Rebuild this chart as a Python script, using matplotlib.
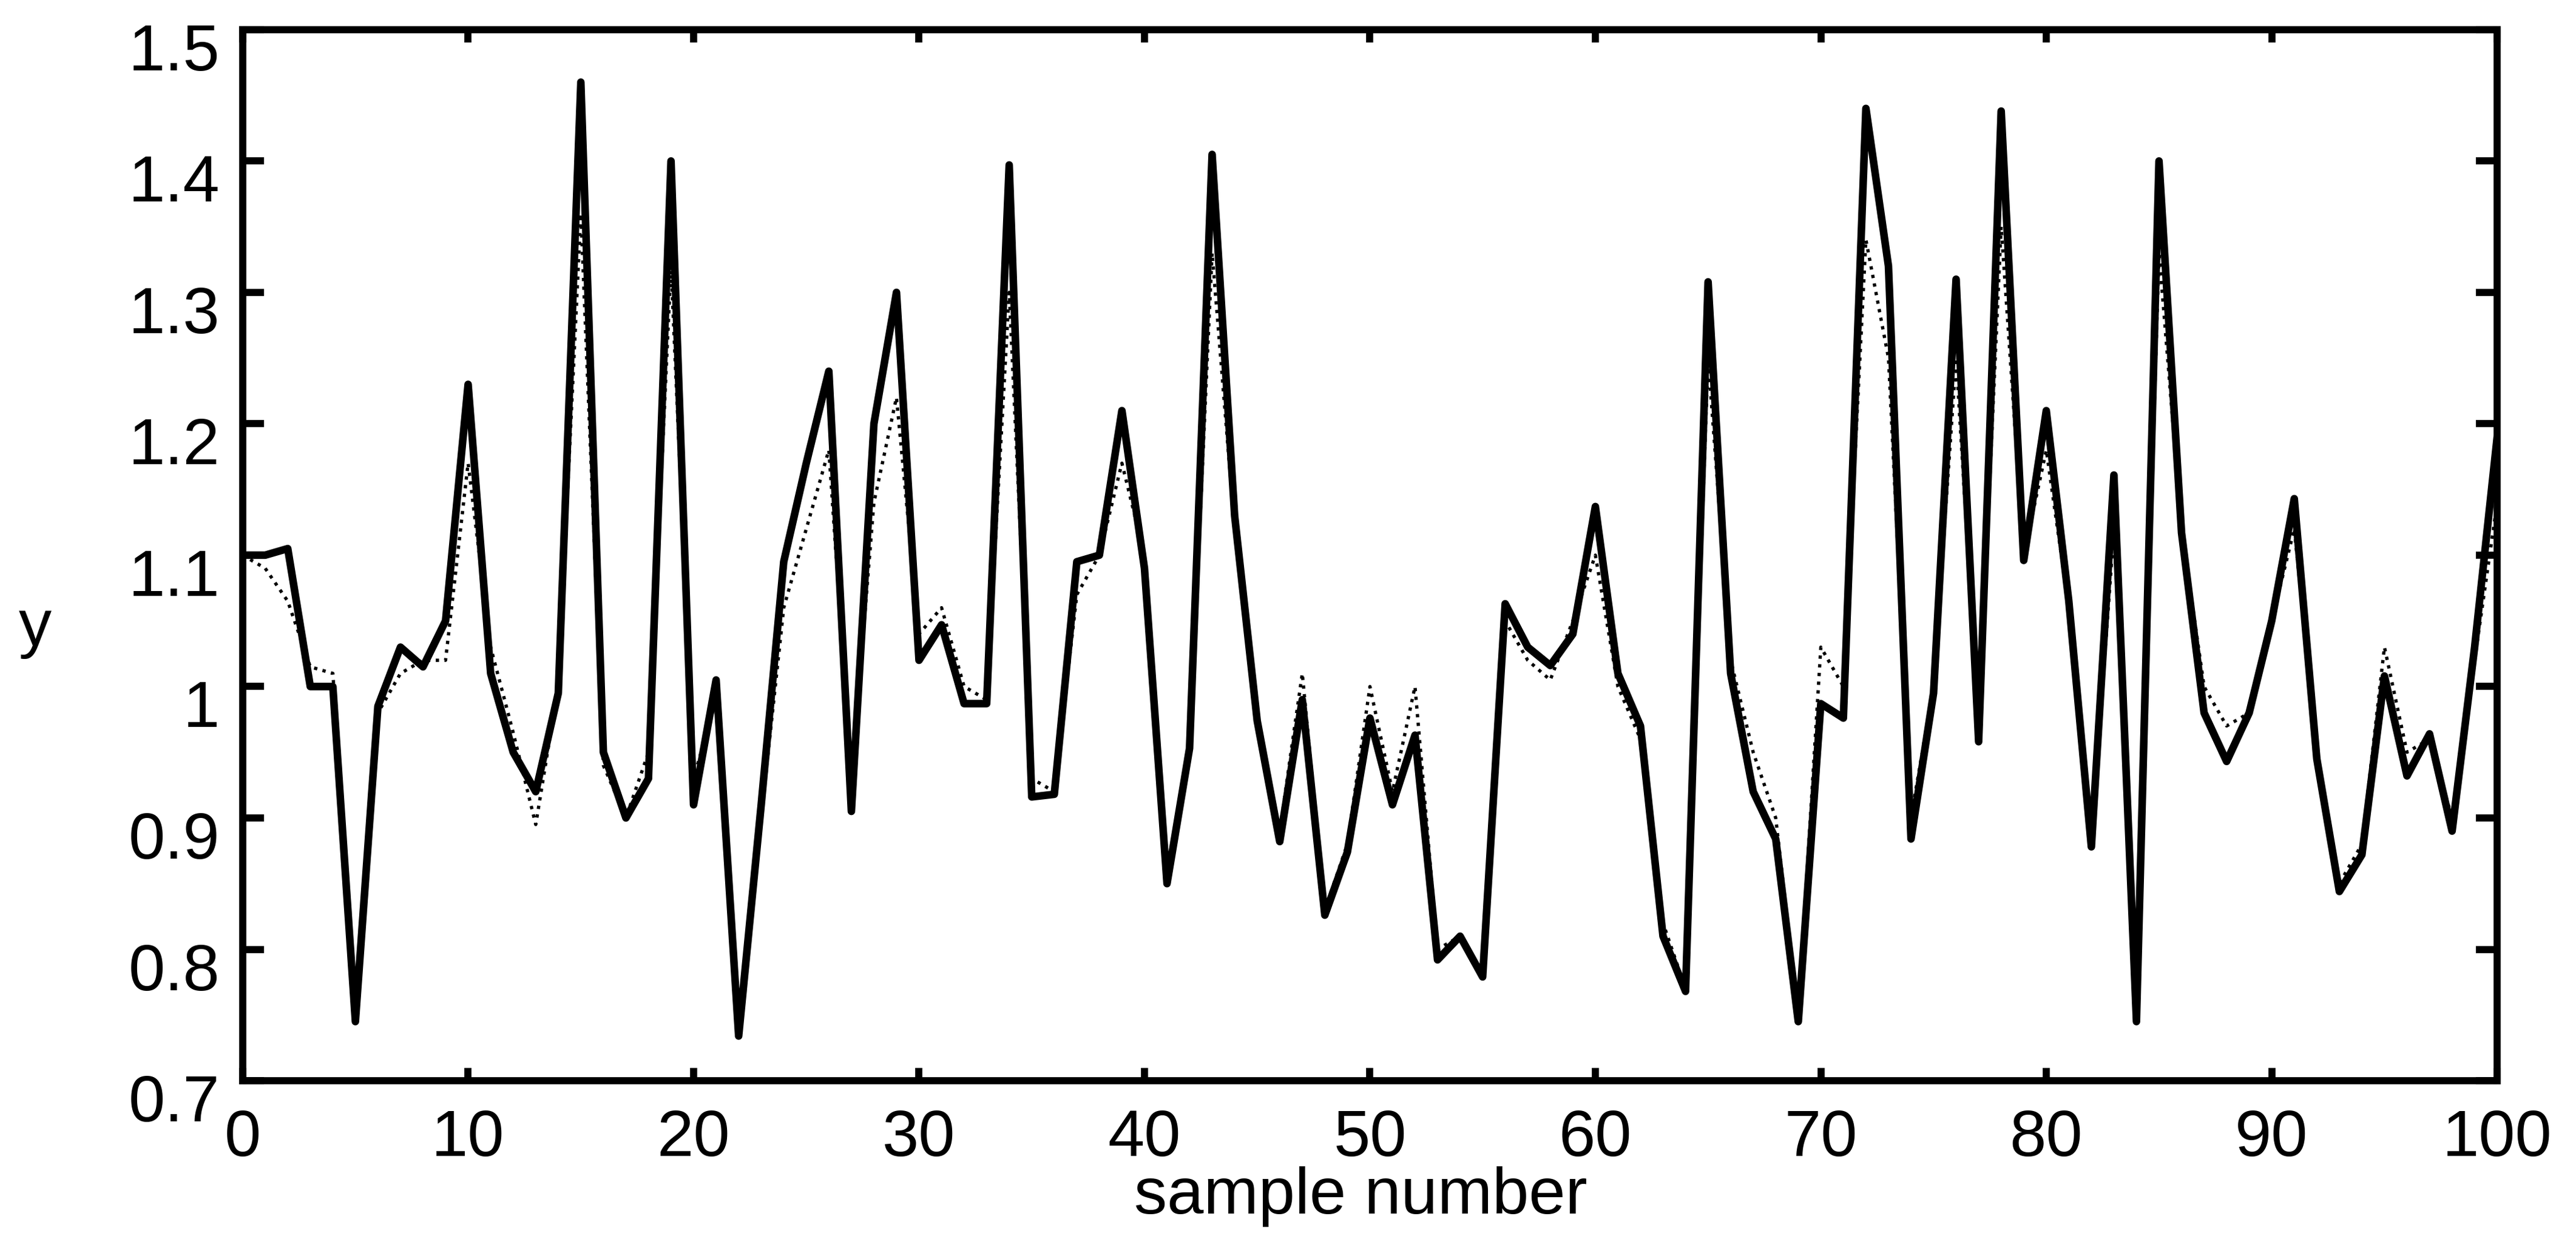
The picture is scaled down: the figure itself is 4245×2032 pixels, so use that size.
import numpy as np
import matplotlib
matplotlib.use('Agg')
import matplotlib.pyplot as plt
from matplotlib.transforms import ScaledTranslation

plt.rcParams['font.family'] = ['Liberation Sans', 'DejaVu Sans']

# sample numbers 0..100
samples = np.arange(101)

# measured output (solid)
y_true = [1.10, 1.10, 1.105, 1.0, 1.0, 0.745, 0.985, 1.03, 1.015, 1.05,
          1.23, 1.01, 0.95, 0.92, 0.995, 1.46, 0.95, 0.90, 0.93, 1.40,
          0.91, 1.005, 0.734, 0.91, 1.095, 1.17, 1.24, 0.905, 1.20, 1.30,
          1.02, 1.047, 0.987, 0.987, 1.397, 0.916, 0.918, 1.095, 1.10, 1.21,
          1.09, 0.85, 0.953, 1.405, 1.13, 0.974, 0.882, 0.99, 0.826, 0.874,
          0.976, 0.91, 0.963, 0.792, 0.81, 0.779, 1.063, 1.03, 1.016, 1.04,
          1.137, 1.01, 0.97, 0.81, 0.768, 1.308, 1.01, 0.92, 0.884, 0.745,
          0.987, 0.976, 1.44, 1.32, 0.884, 0.995, 1.31, 0.958, 1.438, 1.096,
          1.21, 1.065, 0.878, 1.161, 0.745, 1.40, 1.117, 0.98, 0.943, 0.98,
          1.05, 1.143, 0.945, 0.844, 0.872, 1.008, 0.932, 0.964, 0.89, 1.03,
          1.19]

# model estimate (dotted)
y_est = [1.10, 1.09, 1.065, 1.015, 1.01, 0.76, 0.98, 1.01, 1.02, 1.02,
         1.17, 1.03, 0.965, 0.895, 1.0, 1.36, 0.94, 0.90, 0.95, 1.32,
         0.93, 0.99, 0.75, 0.90, 1.06, 1.12, 1.18, 0.93, 1.14, 1.22,
         1.04, 1.06, 1.0, 0.99, 1.30, 0.93, 0.92, 1.07, 1.10, 1.17,
         1.10, 0.86, 0.95, 1.33, 1.12, 0.98, 0.89, 1.01, 0.83, 0.88,
         1.0, 0.92, 1.0, 0.80, 0.81, 0.78, 1.05, 1.02, 1.005, 1.05,
         1.10, 1.0, 0.96, 0.82, 0.77, 1.25, 1.02, 0.95, 0.90, 0.75,
         1.03, 1.0, 1.34, 1.25, 0.90, 1.0, 1.25, 0.97, 1.35, 1.10,
         1.18, 1.06, 0.88, 1.12, 0.77, 1.33, 1.12, 1.0, 0.97, 0.98,
         1.05, 1.12, 0.95, 0.85, 0.88, 1.03, 0.95, 0.96, 0.90, 1.02,
         1.14]

xticks = [0, 10, 20, 30, 40, 50, 60, 70, 80, 90, 100]
yticks = [0.7, 0.8, 0.9, 1.0, 1.1, 1.2, 1.3, 1.4, 1.5]
ytick_labels = ['0.7', '0.8', '0.9', '1', '1.1', '1.2', '1.3', '1.4', '1.5']

fig = plt.figure(figsize=(4245 / 300, 2032 / 300), dpi=300)
ax = fig.add_axes([0.0942, 0.1235, 0.8752, 0.8525])

ax.plot(samples, y_est, color='black', linestyle=':', linewidth=1.3)
ax.plot(samples, y_true, color='black', linestyle='-', linewidth=3.0,
        solid_joinstyle='round', solid_capstyle='round')

ax.set_xlim(0, 100)
ax.set_ylim(0.7, 1.5)
ax.set_xticks(xticks)
ax.set_yticks(yticks)
ax.set_yticklabels(ytick_labels)

for s in ax.spines.values():
    s.set_linewidth(2.8)

ax.tick_params(axis='both', direction='in', labelsize=26, width=2.8)
ax.tick_params(axis='x', top=True, length=5, pad=11)
ax.tick_params(axis='y', right=True, length=8.5, pad=9)

# y tick labels sit a bit below their ticks in the original
offset = ScaledTranslation(0, -28 / 300, fig.dpi_scale_trans)
for lab in ax.get_yticklabels():
    lab.set_transform(lab.get_transform() + offset)

ax.set_xlabel('sample number', fontsize=26, va='center')
ax.xaxis.set_label_coords(0.496, -0.11)
ax.set_ylabel('y', fontsize=26, rotation=0, va='center', ha='center')
ax.yaxis.set_label_coords(-0.092, 0.43)

fig.savefig('out.png', dpi=300)
